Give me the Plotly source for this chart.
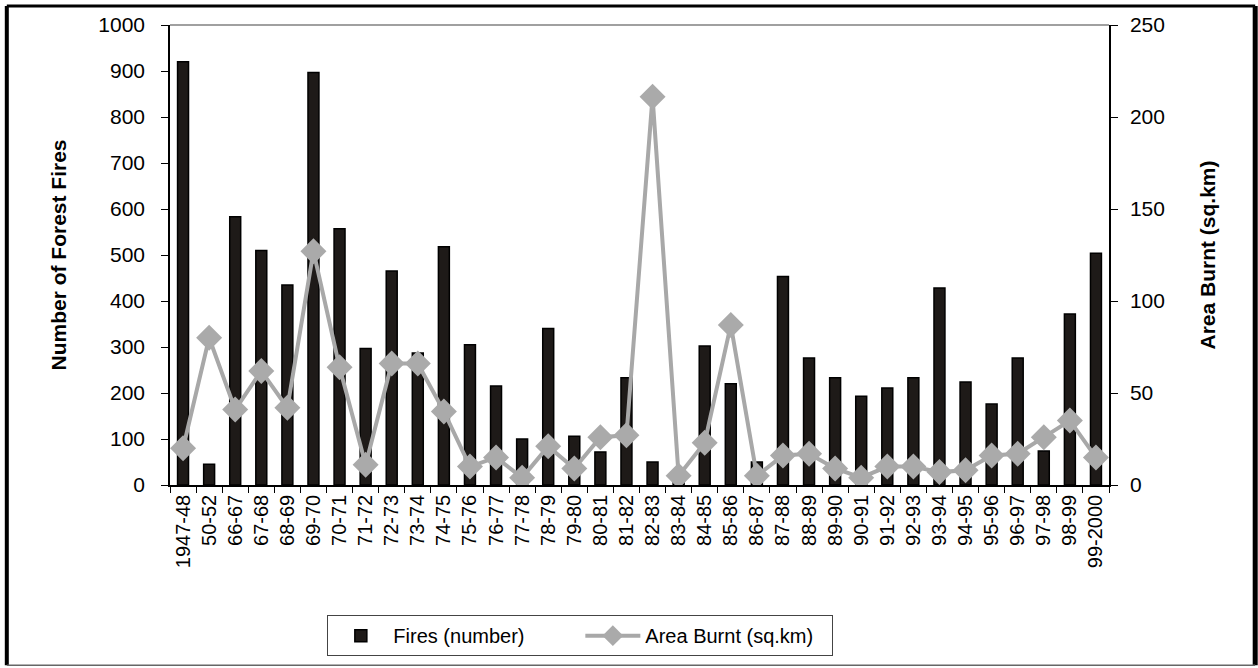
import plotly.graph_objects as go

# Season labels
seasons = ["1947-48", "50-52", "66-67", "67-68", "68-69", "69-70", "70-71", "71-72",
           "72-73", "73-74", "74-75", "75-76", "76-77", "77-78", "78-79", "79-80",
           "80-81", "81-82", "82-83", "83-84", "84-85", "85-86", "86-87", "87-88",
           "88-89", "89-90", "90-91", "91-92", "92-93", "93-94", "94-95", "95-96",
           "96-97", "97-98", "98-99", "99-2000"]

# Number of forest fires per season
fires = [920, 45, 583, 510, 435, 897, 557, 297, 465, 287, 518, 305, 215, 100,
         340, 106, 72, 233, 50, 10, 302, 220, 50, 453, 276, 233, 193, 211, 233,
         428, 224, 176, 276, 74, 372, 504]

# Area burnt per season (sq.km)
area = [20, 80, 41, 62, 42, 127, 64, 11, 66, 66, 40, 10, 15, 4, 21, 9, 26, 27,
        211, 5, 23, 87, 5, 16, 17, 9, 4, 10, 10, 7, 8, 16, 17, 26, 35, 15]

left_ticks = list(range(0, 1001, 100))
right_ticks = list(range(0, 251, 50))

FONT = "Liberation Sans, Arial, sans-serif"

fig = go.Figure()

fig.add_trace(go.Bar(
    x=seasons, y=fires, name="Fires (number)",
    marker=dict(color="#1e1a18", line=dict(color="#000000", width=1.5)),
    width=0.42, yaxis="y",
))

fig.add_trace(go.Scatter(
    x=seasons, y=area, name="Area Burnt (sq.km)", mode="lines+markers",
    line=dict(color="#a8a8a8", width=4),
    marker=dict(symbol="diamond", size=20, color="#aaaaaa"),
    yaxis="y2",
))

fig.update_layout(
    width=1258, height=668,
    margin=dict(l=170, r=149, t=25, b=183),
    paper_bgcolor="white", plot_bgcolor="white",
    font=dict(family=FONT, size=20, color="#000000"),
    showlegend=True,
    legend=dict(
        orientation="h", x=0.437, xanchor="center", y=-0.283, yanchor="top",
        bordercolor="#444444", borderwidth=1, bgcolor="white",
        font=dict(size=20), itemwidth=55, entrywidth=182, traceorder="normal",
    ),
    xaxis=dict(
        type="category", range=[-0.5, len(seasons) - 0.5], tickangle=-90,
        showgrid=False, showline=True, linecolor="#000000", linewidth=1.5,
        ticks="outside", tickson="boundaries", ticklen=6, tickcolor="#000000",
        tickfont=dict(size=20),
    ),
    yaxis=dict(
        range=[0, 1000], tickvals=left_ticks, showgrid=False, zeroline=False,
        showline=True, linecolor="#000000", linewidth=1.5,
        ticks="outside", ticklen=7, tickcolor="#000000",
        tickfont=dict(size=21), ticklabelstandoff=12,
        title=dict(text="<b>Number of Forest Fires</b>", font=dict(size=21), standoff=26),
    ),
    yaxis2=dict(
        range=[0, 250], tickvals=right_ticks, overlaying="y", side="right",
        showgrid=False, zeroline=False,
        showline=True, linecolor="#000000", linewidth=1.5,
        ticks="outside", ticklen=7, tickcolor="#000000",
        tickfont=dict(size=21), ticklabelstandoff=8,
        title=dict(text="<b>Area Burnt (sq.km)</b>", font=dict(size=21), standoff=36),
    ),
    shapes=[
        # top edge of the plotting area
        dict(type="line", xref="paper", yref="paper", x0=0, x1=1, y0=1, y1=1,
             line=dict(color="#808080", width=1.5)),
        # outer frame
        dict(type="line", xref="paper", yref="paper", x0=-0.1738, x1=1.1557,
             y0=1.0413, y1=1.0413, line=dict(color="#000000", width=3)),
        dict(type="line", xref="paper", yref="paper", x0=-0.1738, x1=-0.1738,
             y0=1.0413, y1=-0.392, line=dict(color="#000000", width=4)),
        dict(type="line", xref="paper", yref="paper", x0=1.1557, x1=1.1557,
             y0=1.0413, y1=-0.392, line=dict(color="#000000", width=5)),
        dict(type="line", xref="paper", yref="paper", x0=-0.1738, x1=1.1557,
             y0=-0.392, y1=-0.392, line=dict(color="#666666", width=1.5)),
    ],
)

fig.write_html("out.html")
